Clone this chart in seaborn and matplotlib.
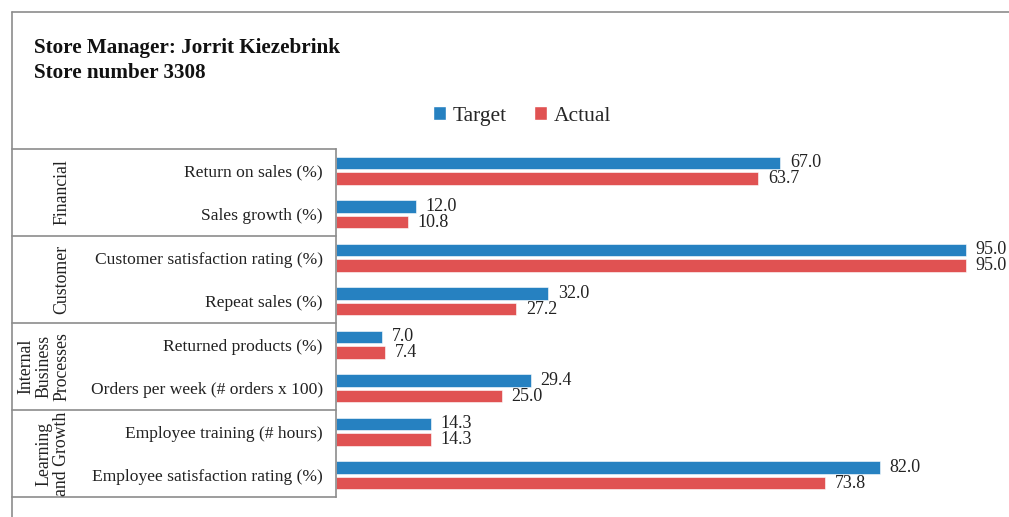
import matplotlib
matplotlib.use("Agg")
import matplotlib.pyplot as plt
import matplotlib.transforms as mtransforms
from matplotlib.lines import Line2D
from matplotlib.patches import Patch
import pandas as pd
import seaborn as sns

# chart data
groups = ["Financial", "Customer", "Internal\nBusiness\nProcesses", "Learning\nand Growth"]
measures = [
    "Return on sales (%)", "Sales growth (%)",
    "Customer satisfaction rating (%)", "Repeat sales (%)",
    "Returned products (%)", "Orders per week (# orders x 100)",
    "Employee training (# hours)", "Employee satisfaction rating (%)",
]
target = [67.0, 12.0, 95.0, 32.0, 7.0, 29.4, 14.3, 82.0]
actual = [63.7, 10.8, 95.0, 27.2, 7.4, 25.0, 14.3, 73.8]
series = ["Target", "Actual"]
colors = ["#2681C1", "#E05252"]

W, H = 1009, 517
GRAY = "#8c8c8c"
FONT = "Liberation Serif"


def fx(px):
    return px / W


def fy(py):
    return 1 - py / H


df = pd.DataFrame({
    "Measure": measures * 2,
    "Value": target + actual,
    "Series": [series[0]] * len(measures) + [series[1]] * len(measures),
})

sns.set_style("white")
plt.rcParams["font.family"] = [FONT, "DejaVu Serif"]

fig = plt.figure(figsize=(W / 100, H / 100), dpi=100)
ax = fig.add_axes([fx(336), fy(497), fx(999) - fx(336), (497 - 149) / H])

sns.barplot(data=df, y="Measure", x="Value", hue="Series", order=measures,
            hue_order=series, palette=colors, saturation=1, orient="h",
            width=0.72, gap=0.2, edgecolor="white", linewidth=0.4,
            legend=False, ax=ax)

for cont in ax.containers:
    ax.bar_label(cont, fmt="%.1f", padding=7, fontsize=13, color="#222222")

ax.set_xlim(0, 100)
ax.set_ylim(len(measures) - 0.5, -0.5)
ax.set_xlabel("")
ax.set_ylabel("")
ax.set_xticks([])
ax.tick_params(axis="y", left=False, pad=6, labelsize=12.6, labelcolor="#222222")
for s in ["top", "right", "bottom"]:
    ax.spines[s].set_visible(False)
ax.spines["left"].set_color(GRAY)
ax.spines["left"].set_linewidth(1.2)

# table-like grid on the left
trans = mtransforms.blended_transform_factory(fig.transFigure, ax.transData)
for yb in [-0.5, 1.5, 3.5, 5.5, 7.5]:
    fig.add_artist(Line2D([fx(12), fx(336)], [yb, yb], transform=trans,
                          color=GRAY, lw=1.2, clip_on=False))
for i, g in enumerate(groups):
    fig.text(fx(70), 2 * i + 0.5, g, transform=trans, rotation=90,
             ha="right", va="center", multialignment="center",
             fontsize=12.8, linespacing=1.05, color="#222222")

# outer frame
fig.add_artist(Line2D([fx(12), 1], [fy(12), fy(12)], color=GRAY, lw=1.2))
fig.add_artist(Line2D([fx(12), fx(12)], [fy(12), 0], color=GRAY, lw=1.2))

fig.text(fx(34), fy(38), "Store Manager: Jorrit Kiezebrink\nStore number 3308",
         ha="left", va="top", fontsize=15.2, fontweight="bold",
         linespacing=1.3, color="#111111")

handles = [Patch(facecolor=c, label=l) for c, l in zip(colors, series)]
fig.legend(handles=handles, loc="center", bbox_to_anchor=(fx(522), fy(116)),
           ncol=2, frameon=False, fontsize=15.5, handlelength=0.6,
           handleheight=0.6, handletextpad=0.3, columnspacing=1.3)

fig.savefig("out.png", dpi=100)
